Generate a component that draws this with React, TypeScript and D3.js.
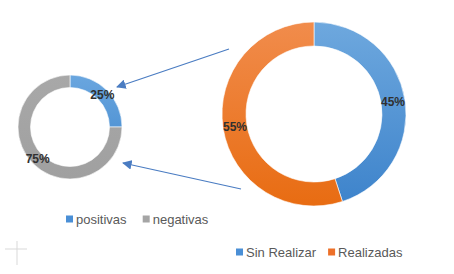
import React from 'react'
import * as d3 from 'd3'

const W = 454
const H = 274

// small doughnut
const smallCats = ['positivas', 'negativas']
const smallVals = [25, 75]
const smallColors = [['#6aa6df', '#3e86cc'], ['#a8a8a8', '#a0a0a0']]

// big doughnut
const bigCats = ['Sin Realizar', 'Realizadas']
const bigVals = [45, 55]
const bigColors = [['#6ea8de', '#3d83cb'], ['#f18c4c', '#e86c12']]

const FONT = '"Liberation Sans", Arial, sans-serif'

type DonutProps = {
  id: string
  cx: number
  cy: number
  rOuter: number
  rInner: number
  values: number[]
  colors: string[][]
}

function Donut({ id, cx, cy, rOuter, rInner, values, colors }: DonutProps) {
  const pie = d3.pie<number>().sort(null).value((d) => d)
  const arcs = pie(values)
  const arc = d3.arc<d3.PieArcDatum<number>>().innerRadius(rInner).outerRadius(rOuter)
  const labelArc = d3
    .arc<d3.PieArcDatum<number>>()
    .innerRadius((rInner + rOuter) / 2)
    .outerRadius((rInner + rOuter) / 2)
  const total = d3.sum(values)

  return (
    <g transform={`translate(${cx},${cy})`}>
      <defs>
        {colors.map((c, i) => (
          <linearGradient
            key={i}
            id={`${id}-g${i}`}
            gradientUnits="userSpaceOnUse"
            x1={0}
            y1={-rOuter}
            x2={0}
            y2={rOuter}
          >
            <stop offset="0%" stopColor={c[0]} />
            <stop offset="100%" stopColor={c[1]} />
          </linearGradient>
        ))}
      </defs>
      {arcs.map((a, i) => (
        <path key={i} d={arc(a) || ''} fill={`url(#${id}-g${i})`} stroke="#ffffff" strokeWidth={0.6} />
      ))}
      {arcs.map((a, i) => {
        const [x, y] = labelArc.centroid(a)
        return (
          <text
            key={'l' + i}
            x={x}
            y={y}
            textAnchor="middle"
            dominantBaseline="central"
            fontFamily={FONT}
            fontSize={12}
            fontWeight="bold"
            fill="#303030"
          >
            {Math.round((a.data / total) * 100)}%
          </text>
        )
      })}
    </g>
  )
}

type LegendProps = {
  x: number
  y: number
  cats: string[]
  colors: string[]
  gap: number
}

function Legend({ x, y, cats, colors, gap }: LegendProps) {
  let cur = x
  return (
    <g>
      {cats.map((c, i) => {
        const gx = cur
        cur += 10 + c.length * 6.3 + gap
        return (
          <g key={c} transform={`translate(${gx},${y})`}>
            <rect x={0} y={-3.5} width={7} height={7} fill={colors[i]} />
            <text
              x={10}
              y={0}
              dominantBaseline="central"
              fontFamily={FONT}
              fontSize={13}
              fill="#595959"
            >
              {c}
            </text>
          </g>
        )
      })}
    </g>
  )
}

export default function App() {
  return (
    <svg
      width={W}
      height={H}
      style={{ position: 'absolute', left: 0, top: 0, background: '#ffffff' }}
    >
      <defs>
        <marker id="arrow" viewBox="0 0 10 10" refX={9} refY={5} markerWidth={8} markerHeight={8} orient="auto">
          <path d="M0,0 L10,5 L0,10 z" fill="#4a7cc2" />
        </marker>
      </defs>

      {/* crosshair decoration */}
      <line x1={5} x2={27} y1={249} y2={249} stroke="#d9d9d9" strokeWidth={1} />
      <line x1={17} x2={17} y1={241} y2={265} stroke="#d9d9d9" strokeWidth={1} />

      <Donut id="small" cx={70} cy={127} rOuter={52} rInner={39.5} values={smallVals} colors={smallColors} />
      <Donut id="big" cx={314} cy={114} rOuter={92} rInner={68} values={bigVals} colors={bigColors} />

      <line x1={229} y1={49} x2={117} y2={87} stroke="#4a7cc2" strokeWidth={1.2} markerEnd="url(#arrow)" />
      <line x1={241} y1={189} x2={123} y2={163} stroke="#4a7cc2" strokeWidth={1.2} markerEnd="url(#arrow)" />

      <Legend x={66} y={219} cats={smallCats} colors={['#4a8fd6', '#a5a5a5']} gap={10} />
      <Legend x={236} y={252} cats={bigCats} colors={['#4a8fd6', '#ed7028']} gap={6.5} />
    </svg>
  )
}
